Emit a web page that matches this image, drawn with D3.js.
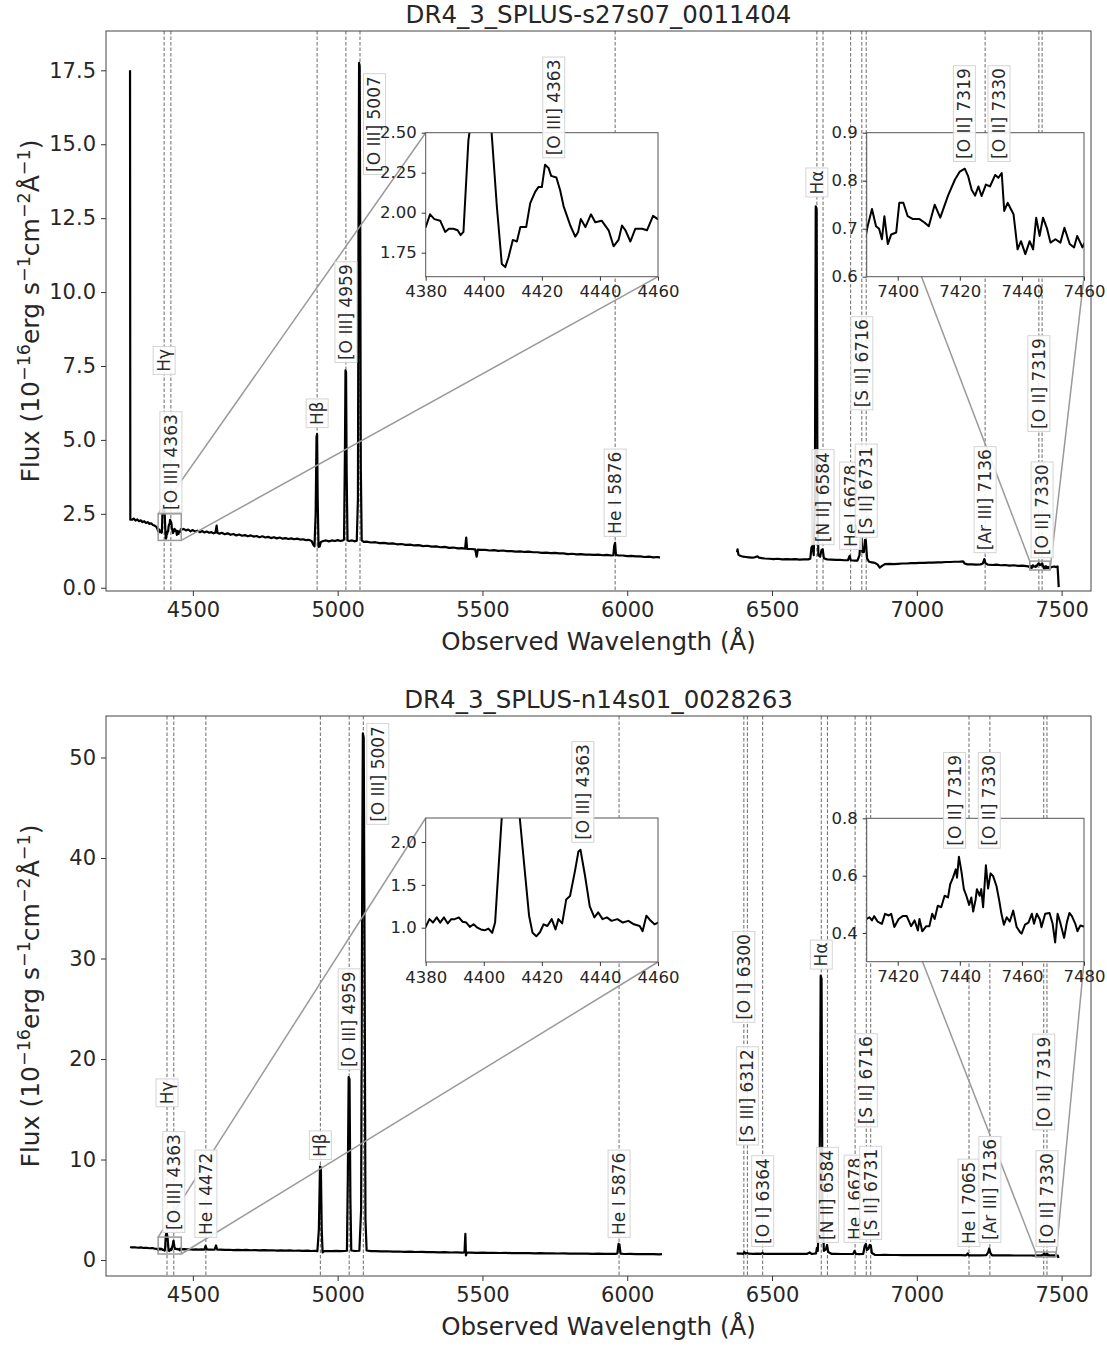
<!DOCTYPE html>
<html><head><meta charset="utf-8">
<script src="https://cdn.jsdelivr.net/npm/d3@7"></script>
<style>body{margin:0;background:#fff}</style>
</head><body><script>
// ---------------- DATA ----------------
const xTicks = [4500, 5000, 5500, 6000, 6500, 7000, 7500];
const topYTicks = [0, 2.5, 5, 7.5, 10, 12.5, 15, 17.5];
const botYTicks = [0, 10, 20, 30, 40, 50];

const topTitle = "DR4_3_SPLUS-s27s07_0011404";
const botTitle = "DR4_3_SPLUS-n14s01_0028263";
const topZ = 0.014;
const botZ = 0.0163;

const topLineNames = ["Hγ","[O III] 4363","Hβ","[O III] 4959","[O III] 5007","He I 5876","Hα","[N II] 6584","He I 6678","[S II] 6716","[S II] 6731","[Ar III] 7136","[O II] 7319","[O II] 7330"];
const topLineRest  = [4340,4363,4861,4959,5007,5876,6563,6584,6678,6716,6731,7136,7319,7330];
const topLabelFlux = [7.2,2.53,5.4,7.6,13.96,1.72,13.2,1.44,1.28,6.0,1.69,1.17,5.27,1.0];
const topLabelShift = [0,0,0,0,50,0,0,0,0,0,0,0,0,0];

const botLineNames = ["Hγ","[O III] 4363","He I 4472","Hβ","[O III] 4959","[O III] 5007","He I 5876","[O I] 6300","[S III] 6312","[O I] 6364","Hα","[N II] 6584","He I 6678","[S II] 6716","[S II] 6731","He I 7065","[Ar III] 7136","[O II] 7319","[O II] 7330"];
const botLineRest  = [4340,4363,4472,4861,4959,5007,5876,6300,6312,6364,6563,6584,6678,6716,6731,7065,7136,7319,7330];
const botLabelFlux = [15.2,2.7,2.2,9.95,18.9,43.3,2.2,23.6,11.4,1.3,28.9,1.7,1.7,13.2,2.0,1.3,1.7,12.9,1.3];
const botLabelShift = [0,0,0,0,0,50,0,0,0,0,0,0,0,0,0,0,0,0,0];

// inset windows (wavelength, flux), ticks and labels
const topInsetA = {x:[4380,4460], y:[1.6,2.5], xt:[4380,4400,4420,4440,4460], yt:[1.75,2.0,2.25,2.5], yf:".2f", names:["[O III] 4363"], rest:[4363], lab:[2.34]};
const topInsetB = {x:[7390,7460], y:[0.6,0.9], xt:[7400,7420,7440,7460], yt:[0.6,0.7,0.8,0.9], yf:".1f", names:["[O II] 7319","[O II] 7330"], rest:[7319,7330], lab:[0.839,0.839]};
const botInsetA = {x:[4380,4460], y:[0.6,2.28], xt:[4380,4400,4420,4440,4460], yt:[1.0,1.5,2.0], yf:".1f", names:["[O III] 4363"], rest:[4363], lab:[1.99]};
const botInsetB = {x:[7410,7480], y:[0.3,0.8], xt:[7420,7440,7460,7480], yt:[0.4,0.6,0.8], yf:".1f", names:["[O II] 7319","[O II] 7330"], rest:[7319,7330], lab:[0.694,0.694]};

// spectra [wavelength, flux]
const topBlue = [[4283,17.5],[4284,2.3],[4290,2.30],[4296,2.34],[4302,2.27],[4308,2.31],[4314,2.25],[4320,2.28],[4326,2.22],[4332,2.25],[4338,2.19],[4344,2.22],[4350,2.16],[4356,2.18],[4362,2.12],[4368,2.10],[4374,2.06],[4378,1.98],
[4380,1.91],[4381.5,1.99],[4383,1.96],[4385,1.95],[4386.7,1.88],[4388,1.90],[4389.5,1.90],[4391,1.89],[4392,1.86],[4393,1.88],[4394.7,2.45],[4396.5,2.70],[4399,2.72],[4401,2.65],[4402.7,2.50],[4404.5,2.04],[4406.2,1.68],[4407.4,1.66],[4408.5,1.72],[4410,1.83],[4411.4,1.82],[4412.6,1.91],[4414.6,1.91],[4416,2.06],[4417.7,2.13],[4418.8,2.16],[4420,2.16],[4421.1,2.30],[4422.3,2.28],[4423.2,2.23],[4425,2.22],[4426.3,2.14],[4427.5,2.04],[4429.8,1.92],[4431.5,1.85],[4432.5,1.88],[4433.4,1.96],[4435,1.91],[4436.9,1.99],[4438.4,1.94],[4440.6,1.95],[4443,1.89],[4444.7,1.79],[4446.4,1.83],[4447.6,1.92],[4448.8,1.89],[4450.5,1.82],[4452.2,1.90],[4454.5,1.90],[4456.2,1.89],[4458.3,1.98],[4459.9,1.96],
[4468,1.99],[4476,1.94],[4484,1.97],[4492,1.91],[4500,1.95],[4508,1.90],[4516,1.93],[4524,1.88],[4532,1.92],[4540,1.87],[4548,1.90],[4556,1.86],[4564,1.88],[4572,1.84],[4578,1.87],[4582,2.10],[4585,1.85],[4592,1.83],[4600,1.86],[4610,1.81],[4620,1.84],[4630,1.79],[4640,1.82],[4650,1.77],[4660,1.80],[4670,1.76],[4680,1.78],[4690,1.74],[4700,1.77],[4710,1.73],[4720,1.75],[4730,1.71],[4740,1.74],[4750,1.70],[4760,1.72],[4770,1.68],[4780,1.71],[4790,1.67],[4800,1.70],[4810,1.66],[4820,1.68],[4830,1.65],[4840,1.67],[4850,1.64],[4860,1.66],[4870,1.63],[4880,1.64],[4890,1.61],[4900,1.62],[4910,1.58],[4916,1.45],[4920,1.40],[4924,2.5],[4927,5.1],[4929,5.2],[4931,3.0],[4934,1.38],[4938,1.40],[4942,1.55],[4950,1.58],[4960,1.60],[4970,1.57],[4980,1.60],[4990,1.58],[5000,1.61],[5010,1.58],[5018,1.60],[5022,1.63],[5025,4.5],[5027,7.35],[5029,7.3],[5031,4.0],[5034,1.60],[5040,1.58],[5050,1.60],[5060,1.57],[5066,1.59],[5070,3.0],[5072,12.0],[5074,17.75],[5076,17.6],[5078,12.0],[5080,4.0],[5083,1.60],[5090,1.55],[5100,1.56],[5115,1.53],[5130,1.54],[5145,1.51],[5160,1.52],[5175,1.49],[5190,1.50],[5205,1.47],[5220,1.48],[5235,1.45],[5250,1.46],[5265,1.43],[5280,1.44],[5295,1.41],[5310,1.42],[5325,1.39],[5340,1.40],[5355,1.37],[5370,1.38],[5385,1.35],[5400,1.36],[5415,1.33],[5430,1.34],[5440,1.32],[5444,1.70],[5447,1.31],[5460,1.31],[5475,1.30],[5480,1.05],[5484,1.29],[5495,1.28],[5510,1.28],[5525,1.26],[5540,1.27],[5555,1.25],[5570,1.26],[5585,1.24],[5600,1.24],[5615,1.22],[5630,1.23],[5645,1.21],[5660,1.22],[5675,1.20],[5690,1.20],[5705,1.18],[5720,1.19],[5735,1.17],[5750,1.18],[5765,1.16],[5780,1.16],[5795,1.14],[5810,1.15],[5825,1.13],[5840,1.14],[5855,1.12],[5870,1.12],[5885,1.11],[5900,1.12],[5915,1.10],[5930,1.11],[5945,1.09],[5952,1.10],[5955,1.42],[5958,1.52],[5961,1.11],[5970,1.09],[5985,1.09],[6000,1.07],[6015,1.08],[6030,1.06],[6045,1.06],[6060,1.04],[6075,1.05],[6090,1.03],[6105,1.04],[6113,1.02]];

const topRed = [[6379,1.20],[6381,1.30],[6384,1.12],[6390,1.08],[6400,1.05],[6410,1.04],[6420,1.03],[6430,1.02],[6440,1.03],[6450,1.06],[6455,1.02],[6465,1.00],[6475,0.99],[6490,0.98],[6505,0.97],[6520,0.98],[6535,0.96],[6550,0.97],[6565,0.96],[6580,0.97],[6595,0.95],[6610,0.96],[6625,0.96],[6632,0.98],[6636,1.35],[6640,1.42],[6644,1.1],[6648,3.0],[6651,12.9],[6654,12.8],[6657,3.0],[6660,1.1],[6666,1.05],[6671,1.28],[6675,1.30],[6679,1.0],[6690,0.96],[6705,0.95],[6720,0.94],[6735,0.94],[6750,0.93],[6762,0.93],[6768,1.08],[6772,0.93],[6785,0.92],[6795,0.92],[6802,1.1],[6806,1.68],[6809,1.7],[6812,1.2],[6817,1.2],[6821,1.62],[6824,1.6],[6828,1.0],[6835,0.88],[6845,0.86],[6855,0.84],[6865,0.78],[6872,0.68],[6880,0.74],[6890,0.80],[6905,0.81],[6920,0.80],[6935,0.81],[6950,0.82],[6965,0.82],[6980,0.83],[6995,0.83],[7010,0.84],[7025,0.84],[7040,0.85],[7055,0.85],[7070,0.86],[7085,0.86],[7100,0.87],[7115,0.87],[7130,0.88],[7145,0.88],[7160,0.89],[7165,0.82],[7175,0.79],[7190,0.79],[7205,0.78],[7220,0.79],[7228,0.82],[7233,0.97],[7237,0.83],[7245,0.78],[7260,0.77],[7275,0.78],[7290,0.76],[7305,0.77],[7320,0.75],[7335,0.76],[7350,0.74],[7365,0.75],[7378,0.73],[7385,0.72],
[7389.7,0.685],[7390.3,0.705],[7391.7,0.741],[7393,0.705],[7394,0.70],[7394.9,0.678],[7395.7,0.726],[7396.8,0.668],[7397.9,0.688],[7399.5,0.692],[7400.5,0.754],[7401.8,0.754],[7403.2,0.726],[7404.9,0.72],[7407,0.72],[7408.6,0.713],[7410,0.705],[7411.9,0.75],[7413.7,0.723],[7416.2,0.769],[7418.4,0.802],[7420,0.819],[7421.6,0.825],[7422.7,0.809],[7423.8,0.781],[7424.9,0.769],[7426,0.788],[7427,0.768],[7428.4,0.792],[7429.7,0.788],[7431.4,0.812],[7432.4,0.806],[7433.5,0.816],[7434.3,0.737],[7435.4,0.754],[7437.3,0.730],[7438.6,0.657],[7439.7,0.674],[7441.1,0.647],[7442.5,0.674],[7443.6,0.657],[7444.6,0.723],[7445.7,0.685],[7446.8,0.723],[7448.1,0.70],[7449.2,0.671],[7450.8,0.678],[7452.4,0.671],[7453.7,0.702],[7455.4,0.668],[7456.8,0.661],[7457.8,0.685],[7459.5,0.661],[7460.3,0.672],
[7465,0.70],[7470,0.71],[7475,0.72],[7480,0.70],[7486,0.72],[7488,0.40],[7490,0.02]];

const botBlue = [[4283,1.30],[4290,1.25],[4300,1.27],[4310,1.22],[4320,1.25],[4330,1.20],[4340,1.22],[4350,1.17],[4360,1.19],[4370,1.12],[4376,1.10],
[4380,1.01],[4381.3,1.10],[4382.5,1.06],[4383.8,1.12],[4385,1.06],[4386.3,1.12],[4387.6,1.05],[4388.8,1.10],[4390,1.10],[4391.4,1.12],[4392.7,1.07],[4394,1.06],[4395.2,1.01],[4396.5,1.04],[4397.8,1.00],[4399,0.98],[4400.3,0.97],[4401.6,0.99],[4402.9,0.94],[4403.9,1.06],[4405.2,1.76],[4406.5,2.45],[4408.5,2.65],[4410.5,2.6],[4412.4,2.28],[4414.3,1.60],[4415.6,1.14],[4416.8,0.94],[4418.1,0.90],[4419.4,0.95],[4420.6,1.04],[4421.9,1.02],[4423.4,1.10],[4424.7,0.98],[4425.7,1.10],[4427,1.05],[4428.4,1.33],[4429.7,1.37],[4431.4,1.66],[4432.6,1.89],[4433.3,1.91],[4434.9,1.60],[4436.5,1.25],[4438.1,1.12],[4439.4,1.18],[4440.9,1.10],[4442.4,1.12],[4444,1.08],[4446,1.10],[4447.9,1.06],[4449.8,1.08],[4451.7,1.04],[4453.7,1.02],[4454.7,0.96],[4456,1.14],[4457.5,1.08],[4458.8,1.04],[4460,1.06],
[4470,1.08],[4480,1.05],[4490,1.07],[4500,1.04],[4510,1.06],[4520,1.03],[4530,1.05],[4540,1.04],[4544,1.40],[4548,1.05],[4555,1.03],[4565,1.04],[4575,1.02],[4580,1.45],[4584,1.02],[4595,1.03],[4610,1.00],[4625,1.02],[4640,0.99],[4655,1.01],[4670,0.98],[4685,1.00],[4700,0.97],[4715,0.99],[4730,0.96],[4745,0.98],[4760,0.95],[4775,0.97],[4790,0.94],[4805,0.96],[4820,0.93],[4835,0.95],[4850,0.92],[4865,0.94],[4880,0.91],[4895,0.93],[4910,0.90],[4920,0.91],[4930,0.88],[4935,3.0],[4939,9.3],[4942,9.2],[4945,3.0],[4948,0.75],[4953,0.88],[4965,0.90],[4980,0.89],[4995,0.91],[5010,0.89],[5025,0.90],[5032,0.92],[5035,8.0],[5038,18.2],[5041,18.0],[5044,6.0],[5047,0.95],[5060,0.90],[5075,0.92],[5081,5.0],[5085,40.0],[5087,52.4],[5090,52.0],[5093,30.0],[5096,4.0],[5100,0.95],[5115,0.88],[5130,0.89],[5150,0.86],[5170,0.87],[5190,0.84],[5210,0.85],[5230,0.82],[5250,0.83],[5270,0.80],[5290,0.81],[5310,0.78],[5330,0.79],[5350,0.77],[5370,0.78],[5390,0.75],[5410,0.76],[5430,0.74],[5438,0.75],[5441,2.6],[5443,0.45],[5446,0.74],[5460,0.73],[5480,0.72],[5500,0.73],[5520,0.71],[5540,0.72],[5560,0.70],[5580,0.71],[5600,0.69],[5620,0.70],[5640,0.68],[5660,0.69],[5680,0.67],[5700,0.68],[5720,0.66],[5740,0.67],[5760,0.65],[5780,0.66],[5800,0.64],[5820,0.65],[5840,0.63],[5860,0.64],[5880,0.62],[5900,0.63],[5920,0.61],[5940,0.62],[5960,0.61],[5966,0.65],[5970,1.6],[5973,1.55],[5977,0.64],[5990,0.60],[6010,0.61],[6030,0.59],[6050,0.60],[6070,0.58],[6090,0.59],[6110,0.57],[6120,0.58]];

const botRed = [[6378,0.66],[6385,0.63],[6395,0.64],[6401,0.62],[6404,0.80],[6408,0.64],[6414,0.70],[6420,0.63],[6435,0.62],[6450,0.63],[6462,0.62],[6467,0.72],[6471,0.62],[6485,0.62],[6500,0.61],[6520,0.62],[6540,0.61],[6560,0.62],[6580,0.61],[6600,0.62],[6620,0.61],[6630,0.75],[6636,0.62],[6645,0.63],[6652,0.66],[6655,1.2],[6658,0.9],[6664,6.0],[6668,28.3],[6671,28.0],[6674,6.0],[6679,0.9],[6686,1.05],[6690,1.5],[6694,0.8],[6705,0.62],[6720,0.61],[6740,0.60],[6760,0.60],[6780,0.60],[6785,0.9],[6790,0.60],[6800,0.59],[6815,0.62],[6820,1.4],[6824,1.6],[6828,1.0],[6833,1.1],[6837,1.5],[6841,1.45],[6845,0.7],[6855,0.52],[6870,0.50],[6890,0.51],[6910,0.50],[6930,0.50],[6950,0.49],[6970,0.50],[6990,0.49],[7010,0.50],[7030,0.49],[7050,0.49],[7070,0.48],[7090,0.49],[7110,0.48],[7130,0.48],[7150,0.48],[7170,0.47],[7176,0.65],[7180,0.47],[7200,0.47],[7220,0.47],[7240,0.48],[7246,0.75],[7250,1.15],[7254,0.7],[7260,0.47],[7280,0.46],[7300,0.46],[7320,0.46],[7340,0.45],[7360,0.45],[7380,0.45],[7395,0.45],[7405,0.44],
[7410,0.449],[7410.9,0.455],[7411.7,0.444],[7412.4,0.459],[7413.5,0.44],[7414.9,0.432],[7415.9,0.467],[7417.1,0.461],[7417.9,0.467],[7418.9,0.421],[7420.3,0.449],[7421.6,0.459],[7422.9,0.459],[7424.3,0.424],[7425.4,0.444],[7426.5,0.409],[7427,0.449],[7427.9,0.406],[7429.2,0.424],[7430.2,0.424],[7431.1,0.467],[7431.9,0.449],[7432.9,0.495],[7434,0.49],[7435.1,0.53],[7436.2,0.524],[7436.9,0.570],[7437.8,0.593],[7438.7,0.622],[7439.1,0.593],[7439.7,0.666],[7440.5,0.616],[7441.3,0.553],[7442.1,0.530],[7443,0.498],[7443.7,0.524],[7444.3,0.475],[7445.1,0.518],[7445.5,0.553],[7446.4,0.53],[7446.9,0.553],[7447.5,0.49],[7448.4,0.636],[7449.1,0.555],[7449.9,0.608],[7450.7,0.599],[7451.8,0.564],[7452.7,0.513],[7453.4,0.467],[7454.2,0.429],[7455.1,0.455],[7456.1,0.44],[7457.2,0.478],[7458.3,0.421],[7459.4,0.403],[7459.9,0.398],[7461,0.429],[7462.1,0.436],[7463.2,0.467],[7463.9,0.432],[7464.8,0.467],[7465.8,0.447],[7466.3,0.42],[7467.5,0.467],[7468.9,0.47],[7469.9,0.432],[7470.7,0.367],[7471.5,0.467],[7472.3,0.438],[7473.6,0.383],[7474.5,0.438],[7475.3,0.47],[7476.1,0.459],[7477.2,0.432],[7477.9,0.406],[7478.8,0.426],[7479.9,0.423],
[7484,0.43],[7487,0.44],[7489,0.20]];

// ---------------- DRAWING ----------------
const FONT = '"DejaVu Sans", "Liberation Sans", sans-serif';
const TXT = "#262626";
const svg = d3.select("body").append("svg").attr("width",1107).attr("height",1346)
  .style("font-family", FONT);
svg.append("rect").attr("width",1107).attr("height",1346).attr("fill","#fff");

const X0 = 106, X1 = 1091;
const x = d3.scaleLinear().domain([4200, 7601.5]).range([X0, X1]);
let clipN = 0;

function addLabel(g, px, py, text, size) {
  const lg = g.append("g").attr("transform", `translate(${px},${py}) rotate(-90)`);
  const t = lg.append("text").attr("x", 3).attr("y", 0)
    .attr("dominant-baseline", "central")
    .style("font-size", size + "px").attr("fill", "#2a2a2a").text(text);
  const bb = t.node().getBBox();
  lg.insert("rect", "text")
    .attr("x", bb.x - 2.5).attr("y", bb.y - 1)
    .attr("width", bb.width + 5).attr("height", bb.height + 2)
    .attr("fill", "#fff").attr("fill-opacity", 0.85)
    .attr("stroke", "#d4d4d4").attr("stroke-width", 1);
}

function styleAxis(sel, fs) {
  sel.select(".domain").remove();
  sel.selectAll(".tick line").attr("stroke", "#333").attr("stroke-width", 1);
  sel.selectAll(".tick text").attr("fill", TXT).style("font-size", fs + "px").style("font-family", FONT);
}

function drawInset(g, p, ins, box, spectra) {
  const xi = d3.scaleLinear().domain(ins.x).range([box.x0, box.x1]);
  const yi = d3.scaleLinear().domain(ins.y).range([box.y1, box.y0]);
  const id = "clip" + (clipN++);
  g.append("clipPath").attr("id", id).append("rect")
    .attr("x", box.x0).attr("y", box.y0).attr("width", box.x1 - box.x0).attr("height", box.y1 - box.y0);
  g.append("rect").attr("x", box.x0).attr("y", box.y0).attr("width", box.x1 - box.x0).attr("height", box.y1 - box.y0)
    .attr("fill", "#fff");
  const ln = d3.line().x(d => xi(d[0])).y(d => yi(d[1]));
  spectra.forEach(s => {
    const sub = s.filter(d => d[0] >= ins.x[0] - 15 && d[0] <= ins.x[1] + 15);
    if (sub.length) g.append("path").datum(sub).attr("d", ln).attr("clip-path", `url(#${id})`)
      .attr("fill", "none").attr("stroke", "#000").attr("stroke-width", 2).attr("stroke-linejoin", "round");
  });
  g.append("rect").attr("x", box.x0).attr("y", box.y0).attr("width", box.x1 - box.x0).attr("height", box.y1 - box.y0)
    .attr("fill", "none").attr("stroke", "#555").attr("stroke-width", 1);
  const ax = g.append("g").attr("transform", `translate(0,${box.y1})`)
    .call(d3.axisBottom(xi).tickValues(ins.xt).tickSize(4).tickPadding(5).tickFormat(d3.format("d")));
  styleAxis(ax, 16.5);
  const ay = g.append("g").attr("transform", `translate(${box.x0},0)`)
    .call(d3.axisLeft(yi).tickValues(ins.yt).tickSize(4).tickPadding(5).tickFormat(d3.format(ins.yf)));
  styleAxis(ay, 16.5);
  ins.names.forEach((n, i) => addLabel(g, xi(ins.rest[i] * (1 + p.z)), yi(ins.lab[i]), n, 17));
}

function drawPanel(p) {
  const y = d3.scaleLinear().domain(p.yDomain).range([p.bottom, p.top]);
  const g = svg.append("g");
  const id = "clip" + (clipN++);
  g.append("clipPath").attr("id", id).append("rect")
    .attr("x", X0).attr("y", p.top).attr("width", X1 - X0).attr("height", p.bottom - p.top);

  // vertical dashed line markers
  g.selectAll(".vl").data(p.rest).enter().append("line")
    .attr("x1", d => x(d * (1 + p.z))).attr("x2", d => x(d * (1 + p.z)))
    .attr("y1", p.top).attr("y2", p.bottom)
    .attr("stroke", "#444").attr("stroke-width", 0.8).attr("stroke-dasharray", "3.5,2");

  // spectrum
  const ln = d3.line().x(d => x(d[0])).y(d => y(d[1]));
  [p.blue, p.red].forEach(s => {
    g.append("path").datum(s).attr("d", ln).attr("clip-path", `url(#${id})`)
      .attr("fill", "none").attr("stroke", "#000").attr("stroke-width", 2.2).attr("stroke-linejoin", "round");
  });

  // inset indicator rectangles + connectors
  p.insets.forEach(([ins, box]) => {
    const rx0 = x(ins.x[0]), rx1 = x(ins.x[1]), ry0 = y(ins.y[1]), ry1 = y(ins.y[0]);
    g.append("rect").attr("x", rx0).attr("y", ry0).attr("width", rx1 - rx0).attr("height", ry1 - ry0)
      .attr("fill", "none").attr("stroke", "#9a9a9a").attr("stroke-width", 1.5);
    g.append("line").attr("x1", rx0).attr("y1", ry0).attr("x2", box.x0).attr("y2", box.y0)
      .attr("stroke", "#9a9a9a").attr("stroke-width", 1.5);
    g.append("line").attr("x1", rx1).attr("y1", ry1).attr("x2", box.x1).attr("y2", box.y1)
      .attr("stroke", "#9a9a9a").attr("stroke-width", 1.5);
  });

  // line labels
  p.names.forEach((n, i) => addLabel(g, x(p.rest[i] * (1 + p.z) + p.shift[i]), y(p.labFlux[i]), n, 17));

  // frame
  g.append("rect").attr("x", X0).attr("y", p.top).attr("width", X1 - X0).attr("height", p.bottom - p.top)
    .attr("fill", "none").attr("stroke", "#444").attr("stroke-width", 1);

  // axes
  const ax = g.append("g").attr("transform", `translate(0,${p.bottom})`)
    .call(d3.axisBottom(x).tickValues(xTicks).tickSize(5).tickPadding(6).tickFormat(d3.format("d")));
  styleAxis(ax, 21);
  const ay = g.append("g").attr("transform", `translate(${X0},0)`)
    .call(d3.axisLeft(y).tickValues(p.yTicks).tickSize(5).tickPadding(5).tickFormat(d3.format(p.yFmt)));
  styleAxis(ay, 21);

  // title and axis labels
  g.append("text").attr("x", (X0 + X1) / 2).attr("y", p.top - 8).attr("text-anchor", "middle")
    .style("font-size", "24.5px").attr("fill", TXT).text(p.title);
  g.append("text").attr("x", (X0 + X1) / 2).attr("y", p.bottom + 59).attr("text-anchor", "middle")
    .style("font-size", "24.5px").attr("fill", TXT).text("Observed Wavelength (Å)");
  const yl = g.append("text").attr("transform", `translate(39,${(p.top + p.bottom) / 2}) rotate(-90)`)
    .attr("text-anchor", "middle").style("font-size", "25px").attr("fill", TXT);
  const parts = [["Flux (10",0],["−16",1],["erg s",0],["−1",1],["cm",0],["−2",1],["Å",0],["−1",1],[")",0]];
  let prevSup = 0;
  parts.forEach(([t, s]) => {
    const ts = yl.append("tspan").text(t);
    if (s) ts.style("font-size", "17.5px");
    const dy = (s ? -9.5 : 0) - (prevSup ? -9.5 : 0);
    if (dy) ts.attr("dy", dy);
    prevSup = s;
  });

  // insets on top
  p.insets.forEach(([ins, box]) => drawInset(g, p, ins, box, [p.blue, p.red]));
}

drawPanel({
  title: topTitle, top: 31, bottom: 591, yDomain: [-0.11, 18.83], yTicks: topYTicks, yFmt: ".1f", z: topZ,
  blue: topBlue, red: topRed, names: topLineNames, rest: topLineRest, labFlux: topLabelFlux, shift: topLabelShift,
  insets: [[topInsetA, {x0: 425.7, x1: 658, y0: 132.7, y1: 276.7}],
           [topInsetB, {x0: 866.7, x1: 1084, y0: 132.7, y1: 276.7}]]
});
drawPanel({
  title: botTitle, top: 716, bottom: 1276, yDomain: [-1.59, 54.13], yTicks: botYTicks, yFmt: "d", z: botZ,
  blue: botBlue, red: botRed, names: botLineNames, rest: botLineRest, labFlux: botLabelFlux, shift: botLabelShift,
  insets: [[botInsetA, {x0: 425.7, x1: 658, y0: 818, y1: 962}],
           [botInsetB, {x0: 866.7, x1: 1084, y0: 818.3, y1: 961.7}]]
});
</script></body></html>
